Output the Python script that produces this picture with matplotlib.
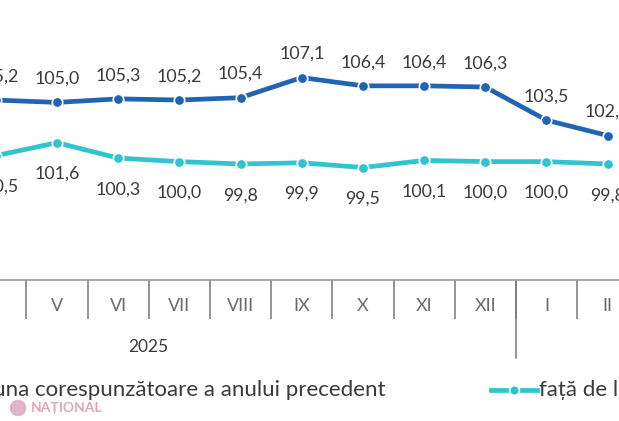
import matplotlib.pyplot as plt
from matplotlib.lines import Line2D
from matplotlib.patches import Circle
import matplotlib.transforms as mtransforms

# data (visible part of the chart: IV 2025 .. II 2026)
months = ["IV", "V", "VI", "VII", "VIII", "IX", "X", "XI", "XII", "I", "II"]
yoy = [105.2, 105.0, 105.3, 105.2, 105.4, 107.1, 106.4, 106.4, 106.3, 103.5, 102.2]
mom = [100.5, 101.6, 100.3, 100.0, 99.8, 99.9, 99.5, 100.1, 100.0, 100.0, 99.8]
year_label = "2025"
year_end_index = 8  # XII
legend_labels = ["față de luna corespunzătoare a anului precedent", "față de luna precedentă"]

DARK = "#2064b2"
CYAN = "#30c4cf"
TEXT = "#3a3a3a"

plt.rcParams["font.family"] = ["Lato", "DejaVu Sans"]

W, H = 619, 421
fig = plt.figure(figsize=(W / 100, H / 100), dpi=100)
ax = fig.add_axes([0, 141 / H, 1, 280 / H])

x = list(range(len(months)))
ax.plot(x, yoy, color=DARK, lw=3.4, marker="o", ms=7.5, mfc=DARK,
        mec="white", mew=1.2, solid_capstyle="round", clip_on=False)
ax.plot(x, mom, color=CYAN, lw=3.4, marker="o", ms=7.5, mfc=CYAN,
        mec="white", mew=1.2, solid_capstyle="round", clip_on=False)

for xi, v in zip(x, yoy):
    ax.annotate(f"{v:.1f}".replace(".", ","), (xi, v), xytext=(0, 17),
                textcoords="offset points", ha="center", va="center",
                fontsize=12.8, color=TEXT, annotation_clip=False)
for xi, v in zip(x, mom):
    ax.annotate(f"{v:.1f}".replace(".", ","), (xi, v), xytext=(0, -22.5),
                textcoords="offset points", ha="center", va="center",
                fontsize=12.8, color=TEXT, annotation_clip=False)

for s in ["top", "left", "right"]:
    ax.spines[s].set_visible(False)
ax.spines["bottom"].set_color("#9a9a9a")
ax.spines["bottom"].set_linewidth(1.2)
ax.set_yticks([])

ax.set_xticks(x)
ax.set_xticklabels(months, fontsize=13, color="#6a6a6a")
ax.tick_params(axis="x", which="major", length=0, pad=13)
ax.set_xticks([i - 0.5 for i in range(len(months) + 1)], minor=True)
ax.tick_params(axis="x", which="minor", length=28, width=1.1, color="#777777")

# limits set after the ticks so the ticks do not widen them
ax.set_xlim(0.069, 10.185)
ax.set_ylim(90, 113.65)

# year separator and year label
trans = mtransforms.blended_transform_factory(ax.transData, ax.transAxes)
sep = year_end_index + 0.5
ax.plot([sep, sep], [0, -78 / 280], color="#777777", lw=1.1,
        transform=trans, clip_on=False)
ax.text(sep - 6, -67 / 280, year_label, transform=trans, ha="center",
        va="center", fontsize=12.5, color=TEXT)

# legend (drawn by hand, partly outside the crop)
ly = 1 - 390 / H
fig.text(386 / W, ly, legend_labels[0], ha="right", va="center",
         fontsize=16, color=TEXT)
fig.add_artist(Line2D([491 / W, 537 / W], [ly, ly], color=CYAN, lw=3.4,
                      transform=fig.transFigure))
fig.add_artist(Line2D([514 / W], [ly], color=CYAN, marker="o", ms=7,
                      mec="white", mew=1.2, transform=fig.transFigure))
fig.text(539 / W, ly, legend_labels[1], ha="left", va="center",
         fontsize=16, color=TEXT)

# watermark
fig.add_artist(Circle((0.18, (H - 408) / 100), 0.075,
                      transform=fig.dpi_scale_trans, color="#d9a3c0", alpha=0.8))
fig.text(31 / W, 1 - 408 / H, "NAȚIONAL", ha="left", va="center", fontsize=10,
         fontweight="bold", color="#e6a3b6")

fig.savefig("out.png", dpi=100)
